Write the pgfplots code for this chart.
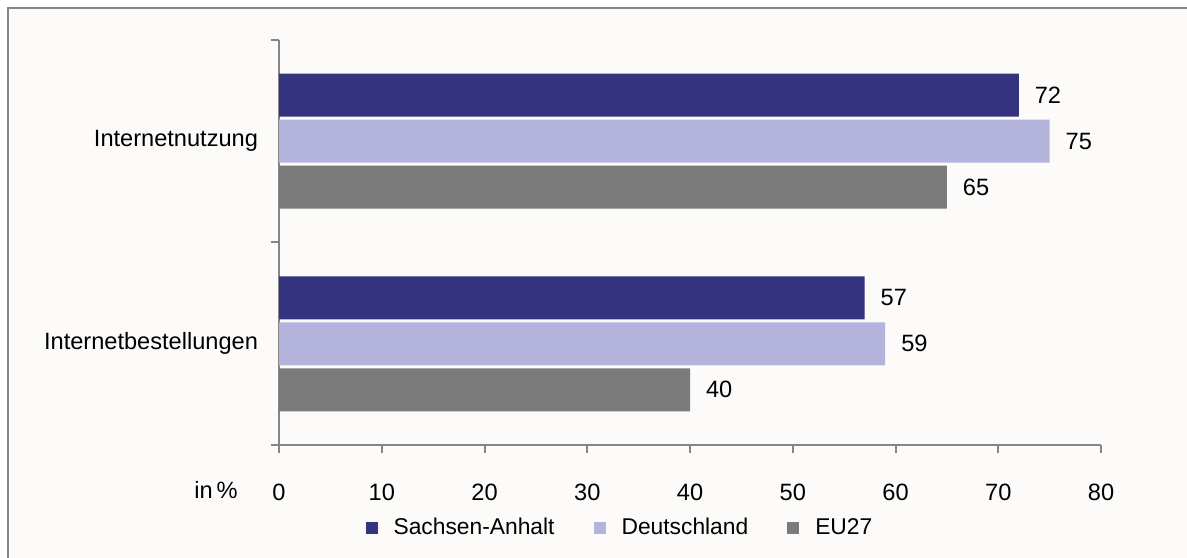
\documentclass[border=0pt]{standalone}
\usepackage{fontspec}
\setmainfont{Liberation Sans}
\usepackage{pgfplots}
\pgfplotsset{compat=1.18}
\definecolor{cSA}{HTML}{333380}
\definecolor{cDE}{HTML}{B3B3DB}
\definecolor{cEU}{HTML}{7A7A7A}
\definecolor{axgray}{HTML}{868686}
\definecolor{bg}{HTML}{FCFBF9}
\newcommand\f{\fontsize{11.8bp}{14bp}\selectfont}
\newcommand\fl{\fontsize{11.4bp}{14bp}\selectfont}
\pgfplotsset{sqleg/.style={legend image code/.code={\fill[##1] (0bp,-3bp) rectangle (6bp,3bp); \path[draw=none,fill=none] (12bp,0bp) circle[radius=0pt];}}}
\begin{document}
\begin{tikzpicture}[x=1bp,y=1bp]
\useasboundingbox (0,0) rectangle (593.5,278.5);
\clip (0,0) rectangle (593.5,278.5);
\fill[white] (0,0) rectangle (593.5,278.5);
\filldraw[fill=bg, draw=axgray, line width=0.75bp] (4,274.5) rectangle (610,-10);
\begin{axis}[
  at={(139.5bp,56bp)}, anchor=south west,
  scale only axis, width=411bp, height=202.5bp,
  xmin=0, xmax=80, ymin=0, ymax=2,
  enlargelimits=false,
  xbar, bar width=21.5bp,
  xtick={0,10,...,80},
  ytick={0,1,2}, yticklabels={},
  extra y ticks={0.5,1.5},
  extra y tick labels={Internetbestellungen,Internetnutzung},
  extra y tick style={major tick length=0pt},
  yticklabel style={xshift=-7bp},
  xticklabel style={yshift=-12bp},
  axis x line*=bottom, axis y line*=left,
  axis line style={draw=axgray, line width=1bp, -},
  tick style={draw=axgray, line width=1bp},
  major tick length=3.8bp,
  tick align=outside,
  ticklabel style={font=\f, text=black},
  /pgf/number format/assume math mode=true,
  point meta=x,
  nodes near coords,
  nodes near coords align={horizontal},
  every node near coord/.append style={font=\f, text=black, anchor=west, xshift=4.5bp},
  legend style={at={(0.416,-0.205)}, anchor=center, draw=none, fill=none,
    font=\fl, legend columns=3,
    /tikz/every even column/.append style={column sep=17.5bp}},
  clip=false,
]
\addplot[fill=cSA, draw=none, bar shift=23bp, sqleg]
  coordinates {(72,1.5) (57,0.5)};
\addlegendentry{Sachsen-Anhalt}
\addplot[fill=cDE, draw=none, bar shift=0bp, sqleg]
  coordinates {(75,1.5) (59,0.5)};
\addlegendentry{Deutschland}
\addplot[fill=cEU, draw=none, bar shift=-23bp, sqleg]
  coordinates {(65,1.5) (40,0.5)};
\addlegendentry{EU27}
\end{axis}
\node[font=\f, anchor=center] at (108,33.5) {in\,\%};
\end{tikzpicture}
\end{document}
